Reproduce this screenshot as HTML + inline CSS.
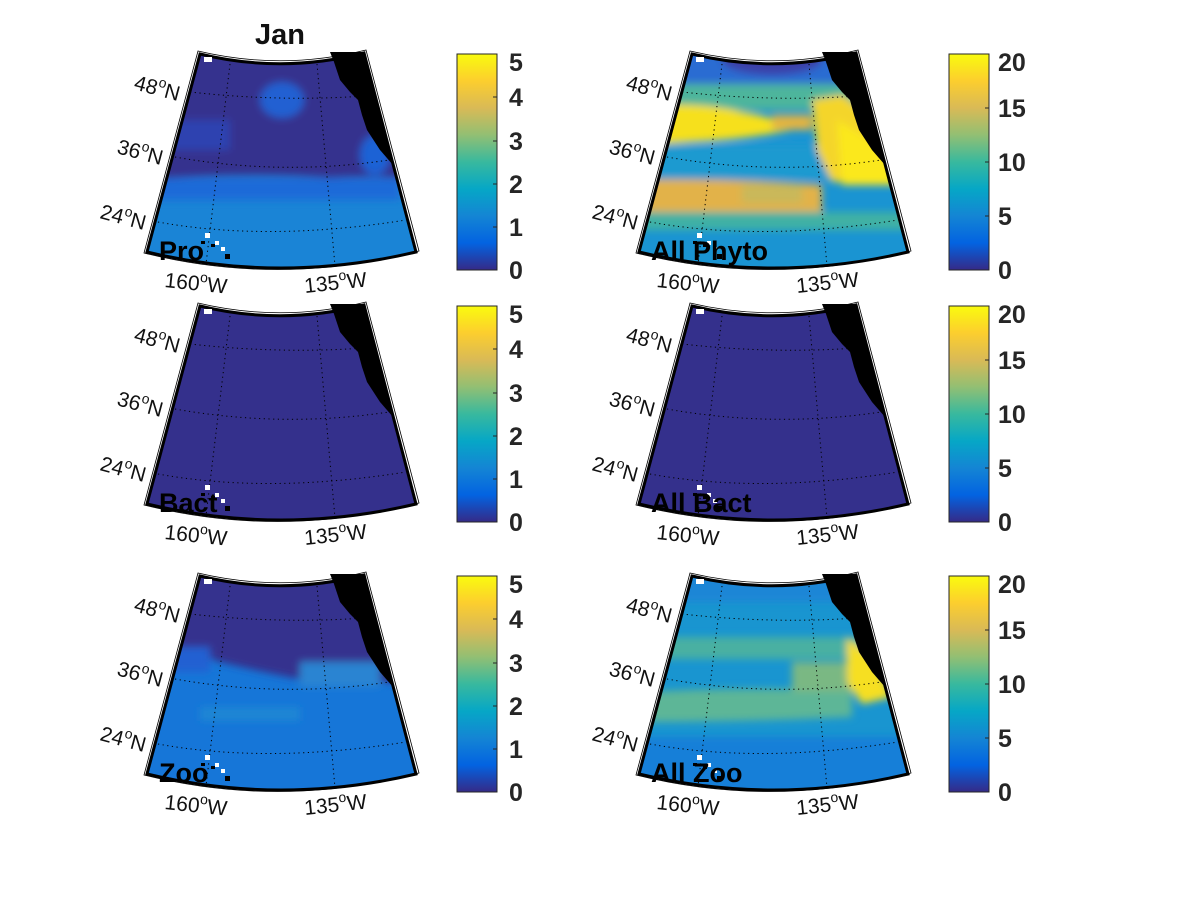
<!DOCTYPE html>
<html><head><meta charset="utf-8"><style>
html,body{margin:0;padding:0;background:#fff;}
svg{display:block;font-family:"Liberation Sans",sans-serif;}
.lab{font-size:21px;fill:#111;}
.cb{font-size:25px;font-weight:bold;fill:#262626;}
.pl{font-size:27px;font-weight:bold;fill:#000;}
</style></head><body>
<svg width="1200" height="900" viewBox="0 0 1200 900" xmlns="http://www.w3.org/2000/svg">
<defs>
<clipPath id="mc"><path d="M200,54 Q282,74 364,53 L416,252 Q281,284 147,252 Z"/></clipPath>
<filter id="bl" x="-20%" y="-20%" width="140%" height="140%"><feGaussianBlur stdDeviation="4"/></filter>
<linearGradient id="par" x1="0" y1="1" x2="0" y2="0">
<stop offset="0" stop-color="#352A87"/><stop offset="0.125" stop-color="#0363E1"/>
<stop offset="0.25" stop-color="#1485D4"/><stop offset="0.375" stop-color="#06A7C6"/>
<stop offset="0.5" stop-color="#38B99E"/><stop offset="0.625" stop-color="#92BF73"/>
<stop offset="0.75" stop-color="#D9BA56"/><stop offset="0.875" stop-color="#FCCE2E"/>
<stop offset="1" stop-color="#F9FB0E"/></linearGradient>
<g id="over">
<path d="M330,52 L334,62 L340,80 L350,92 L358,100 L362,115 L367,130 L380,150 L393,165 L364,52 Z" fill="#000"/>
<g fill="none" stroke="#000" stroke-width="1" stroke-dasharray="1.2 3.5">
<path d="M190,92 Q280,102 364,96"/>
<path d="M175,157 Q282,176 389,160"/>
<path d="M158,222 Q268,242 406,220"/>
<path d="M230,64 L206,264"/>
<path d="M317,64 L335,266"/>
</g>
<path d="M200,54 Q282,74 364,53 L416,252 Q281,284 147,252 Z" fill="none" stroke="#000" stroke-width="3"/>
<path d="M198,51 Q282,71 366,50 L419,251 Q281,287 144,253 Z" fill="none" stroke="#000" stroke-width="0.8"/>
<rect x="205" y="233" width="5" height="5" fill="#fff"/><rect x="215" y="241" width="4" height="4" fill="#fff"/>
<rect x="221" y="247" width="4" height="4" fill="#fff"/><rect x="225" y="254" width="5" height="5" fill="#000"/>
<rect x="201" y="241" width="4" height="3" fill="#000"/><rect x="211" y="244" width="4" height="3" fill="#000"/>
<rect x="204" y="57" width="8" height="5" fill="#fff"/>
<text class="lab" transform="translate(133,89) rotate(15)">48<tspan dy="-9" font-size="14">o</tspan><tspan dy="9">N</tspan></text>
<text class="lab" transform="translate(116,153) rotate(15)">36<tspan dy="-9" font-size="14">o</tspan><tspan dy="9">N</tspan></text>
<text class="lab" transform="translate(99,218) rotate(15)">24<tspan dy="-9" font-size="14">o</tspan><tspan dy="9">N</tspan></text>
<text class="lab" transform="translate(164,287) rotate(6)">160<tspan dy="-9" font-size="14">o</tspan><tspan dy="9">W</tspan></text>
<text class="lab" transform="translate(305,293) rotate(-6)">135<tspan dy="-9" font-size="14">o</tspan><tspan dy="9">W</tspan></text>
</g>
</defs>

<text x="280" y="44" text-anchor="middle" font-size="29" font-weight="bold" fill="#111">Jan</text>

<!-- Pro -->
<g clip-path="url(#mc)">
<rect x="140" y="40" width="290" height="240" fill="#1a84d6"/>
<g filter="url(#bl)">
<path d="M140,40 H430 V180 Q380,175 330,178 Q250,172 140,180 Z" fill="#34308e"/>
<ellipse cx="282" cy="100" rx="22" ry="18" fill="#2060d2"/>
<rect x="150" y="120" width="80" height="30" fill="#2f42b0"/>
<rect x="150" y="178" width="250" height="22" fill="#1d6ad8"/>
<ellipse cx="375" cy="155" rx="15" ry="20" fill="#1e62d5"/>
</g></g>
<use href="#over"/>
<text class="pl" x="159" y="260">Pro</text>

<!-- Bact -->
<g transform="translate(0,252)">
<g clip-path="url(#mc)"><rect x="140" y="40" width="290" height="240" fill="#34308c"/></g>
<use href="#over"/>
<text class="pl" x="159" y="260">Bact</text>
</g>

<!-- Zoo -->
<g transform="translate(0,522)">
<g clip-path="url(#mc)">
<rect x="140" y="40" width="290" height="240" fill="#1676d8"/>
<g filter="url(#bl)">
<path d="M140,40 H430 V165 Q390,155 340,165 Q260,150 220,140 Q180,125 140,125 Z" fill="#34308e"/>
<rect x="160" y="125" width="50" height="25" fill="#2160d2"/>
<rect x="300" y="140" width="80" height="25" fill="#2c84d2"/>
<rect x="200" y="185" width="100" height="14" fill="#1c86d4"/>
</g></g>
<use href="#over"/>
<text class="pl" x="159" y="260">Zoo</text>
</g>

<!-- All Phyto -->
<g transform="translate(492,0)">
<g clip-path="url(#mc)">
<rect x="140" y="40" width="290" height="240" fill="#1a94d2"/>
<g filter="url(#bl)">
<rect x="140" y="40" width="290" height="45" fill="#2a6cd2"/>
<ellipse cx="280" cy="60" rx="50" ry="15" fill="#3a3fa8"/>
<rect x="140" y="84" width="290" height="26" fill="#4db59c"/>
<path d="M140,108 Q200,100 250,112 Q290,118 300,130 Q250,140 200,142 Q160,145 140,145 Z" fill="#f6e01f"/>
<rect x="280" y="115" width="40" height="15" fill="#e2b443"/>
<rect x="140" y="145" width="200" height="35" fill="#1e9ad0"/>
<path d="M320,100 L350,95 L370,110 L395,160 L400,180 L340,182 L325,150 Z" fill="#f4d52a"/>
<path d="M345,120 L395,150 L405,185 L350,185 Z" fill="#fbe81a"/>
<path d="M140,180 Q230,178 330,185 L330,212 Q240,215 140,212 Z" fill="#e2b249"/>
<rect x="140" y="212" width="290" height="18" fill="#40b1a4"/>
<rect x="250" y="185" width="60" height="18" fill="#c9b85a"/>
</g></g>
<use href="#over"/>
<text class="pl" x="159" y="260">All Phyto</text>
</g>

<!-- All Bact -->
<g transform="translate(492,252)">
<g clip-path="url(#mc)"><rect x="140" y="40" width="290" height="240" fill="#34308c"/></g>
<use href="#over"/>
<text class="pl" x="159" y="260">All Bact</text>
</g>

<!-- All Zoo -->
<g transform="translate(492,522)">
<g clip-path="url(#mc)">
<rect x="140" y="40" width="290" height="240" fill="#1995d0"/>
<g filter="url(#bl)">
<rect x="140" y="40" width="290" height="40" fill="#1e86d6"/>
<rect x="140" y="115" width="250" height="22" fill="#48b0a2"/>
<path d="M150,170 Q250,165 360,168 L360,195 Q250,200 150,200 Z" fill="#5db697"/>
<rect x="300" y="140" width="70" height="30" fill="#7ab883"/>
<rect x="140" y="215" width="290" height="65" fill="#177fd8"/>
<path d="M355,115 L385,140 L400,175 L370,182 L355,160 Z" fill="#f6df22"/>
</g></g>
<use href="#over"/>
<text class="pl" x="159" y="260">All Zoo</text>
</g>

<!-- colorbars -->
<g id="cbl">
<rect x="457" y="54" width="40" height="216" fill="url(#par)" stroke="#262626" stroke-width="1"/>
<g stroke="#262626" stroke-width="1">
<line x1="493" y1="97" x2="497" y2="97"/><line x1="493" y1="141" x2="497" y2="141"/>
<line x1="493" y1="184" x2="497" y2="184"/><line x1="493" y1="227" x2="497" y2="227"/>
</g>
</g>
<g id="cbltx" class="cb">
<text x="509" y="71">5</text><text x="509" y="106">4</text><text x="509" y="150">3</text><text x="509" y="193">2</text><text x="509" y="236">1</text><text x="509" y="279">0</text>
</g>
<use href="#cbl" transform="translate(0,252)"/>
<use href="#cbltx" transform="translate(0,252)"/>
<use href="#cbl" transform="translate(0,522)"/>
<use href="#cbltx" transform="translate(0,522)"/>
<g id="cbr" transform="translate(492,0)">
<rect x="457" y="54" width="40" height="216" fill="url(#par)" stroke="#262626" stroke-width="1"/>
<g stroke="#262626" stroke-width="1">
<line x1="493" y1="108" x2="497" y2="108"/><line x1="493" y1="162" x2="497" y2="162"/>
<line x1="493" y1="216" x2="497" y2="216"/>
</g>
<g class="cb">
<text x="506" y="71">20</text><text x="506" y="117">15</text><text x="506" y="171">10</text><text x="506" y="225">5</text><text x="506" y="279">0</text>
</g>
</g>
<use href="#cbr" transform="translate(0,252)"/>
<use href="#cbr" transform="translate(0,522)"/>
</svg>
</body></html>
